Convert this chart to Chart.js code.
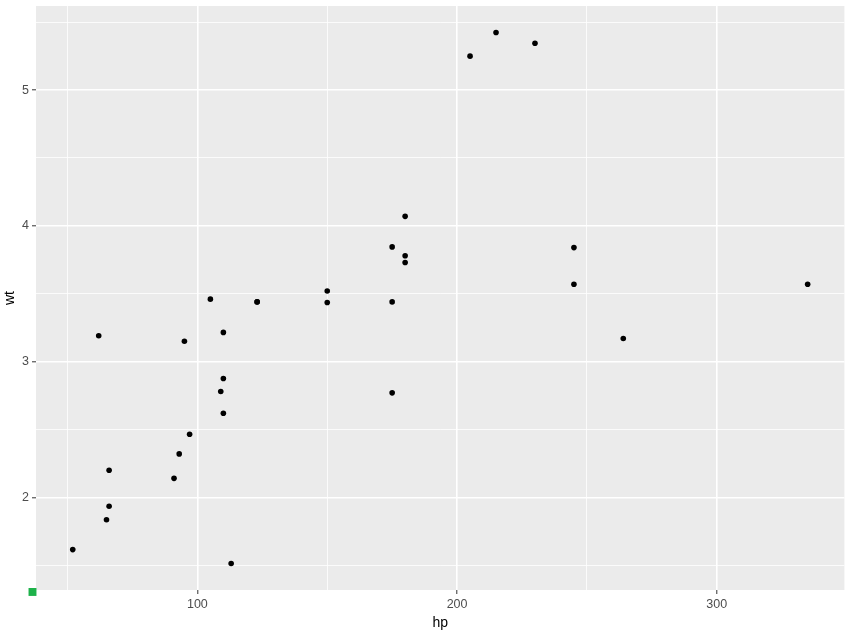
<!DOCTYPE html>
<html>
<head>
<meta charset="utf-8">
<script src="https://cdn.jsdelivr.net/npm/chart.js@4"></script>
<style>
  html, body { margin: 0; padding: 0; background: #ffffff; }
  #wrap { width: 850px; height: 636px; }
</style>
</head>
<body>
<div id="wrap"><canvas id="scatter" width="850" height="636"></canvas></div>
<script>
// mtcars: horsepower vs weight (1000 lbs)
const hp = [110, 110, 93, 110, 175, 105, 245, 62, 95, 123, 123, 180, 180, 180, 205, 215,
  230, 66, 52, 65, 97, 150, 150, 245, 175, 66, 91, 113, 264, 175, 335, 109];
const wt = [2.620, 2.875, 2.320, 3.215, 3.440, 3.460, 3.570, 3.190, 3.150, 3.440, 3.440,
  4.070, 3.730, 3.780, 5.250, 5.424, 5.345, 2.200, 1.615, 1.835, 2.465, 3.520, 3.435,
  3.840, 3.845, 1.935, 2.140, 1.513, 3.170, 2.770, 3.570, 2.780];
const xTicks = [50, 100, 150, 200, 250, 300];
const yTicks = [1.5, 2, 2.5, 3, 3.5, 4, 4.5, 5, 5.5];
const xMajor = [100, 200, 300];
const yMajor = [2, 3, 4, 5];
// the small green marker at the lower-left corner of the panel
const cornerMark = [{ x: 36.5, y: 1.303 }];

const points = hp.map((h, i) => ({ x: h, y: wt[i] }));

// ggplot-like grey panel
const panelBg = {
  id: 'panelBg',
  beforeDraw(chart) {
    const a = chart.chartArea;
    const ctx = chart.ctx;
    ctx.save();
    ctx.fillStyle = '#ebebeb';
    ctx.fillRect(a.left, a.top, a.right - a.left, a.bottom - a.top);
    ctx.restore();
  }
};

function isMajor(list, v) {
  return list.some(m => Math.abs(m - v) < 1e-6);
}

const tickFont = { family: 'Liberation Sans, Arial, sans-serif', size: 12.5 };
const titleFont = { family: 'Liberation Sans, Arial, sans-serif', size: 14 };

let config = {
  type: 'scatter',
  data: {
    datasets: [
      {
        data: points,
        backgroundColor: '#000000',
        borderColor: '#000000',
        pointRadius: 2.8,
        pointHoverRadius: 2.8,
        borderWidth: 0
      },
      {
        data: cornerMark,
        backgroundColor: '#1db24a',
        borderColor: '#1db24a',
        pointStyle: 'rect',
        pointRadius: 5.6,
        borderWidth: 0,
        clip: false
      }
    ]
  },
  options: {
    responsive: false,
    animation: false,
    events: [],
    layout: { padding: { left: 0, right: 5, top: 6, bottom: 0 } },
    plugins: {
      legend: { display: false },
      tooltip: { enabled: false }
    },
    scales: {
      x: {
        type: 'linear',
        min: 37.85,
        max: 349.15,
        border: { display: false },
        afterBuildTicks: s => { s.ticks = xTicks.map(v => ({ value: v })); },
        afterFit: s => { s.height = 46; s.paddingLeft = 0; s.paddingRight = 0; },
        grid: {
          color: '#ffffff',
          lineWidth: c => isMajor(xMajor, c.tick.value) ? 1.6 : 0.8,
          tickColor: c => isMajor(xMajor, c.tick.value) ? '#333333' : 'rgba(0,0,0,0)',
          tickLength: 4,
          tickWidth: 1
        },
        ticks: {
          color: '#4d4d4d',
          font: tickFont,
          padding: 3,
          maxRotation: 0,
          callback: v => isMajor(xMajor, v) ? String(v) : ''
        },
        title: {
          display: true,
          text: 'hp',
          color: '#000000',
          font: titleFont,
          padding: { top: 0, bottom: 4 }
        }
      },
      y: {
        type: 'linear',
        min: 1.3175,
        max: 5.6196,
        border: { display: false },
        afterBuildTicks: s => { s.ticks = yTicks.map(v => ({ value: v })); },
        afterFit: s => { s.width = 36; s.paddingTop = 0; s.paddingBottom = 0; },
        grid: {
          color: '#ffffff',
          lineWidth: c => isMajor(yMajor, c.tick.value) ? 1.6 : 0.8,
          tickColor: c => isMajor(yMajor, c.tick.value) ? '#333333' : 'rgba(0,0,0,0)',
          tickLength: 4,
          tickWidth: 1
        },
        ticks: {
          color: '#4d4d4d',
          font: tickFont,
          padding: 3,
          callback: v => isMajor(yMajor, v) ? String(v) : ''
        },
        title: {
          display: true,
          text: 'wt',
          color: '#000000',
          font: titleFont,
          padding: { top: 2, bottom: 0 }
        }
      }
    }
  },
  plugins: [panelBg]
};

let ctx = document.getElementById('scatter').getContext('2d');
window.myScatter = new Chart(ctx, config);
</script>
</body>
</html>
